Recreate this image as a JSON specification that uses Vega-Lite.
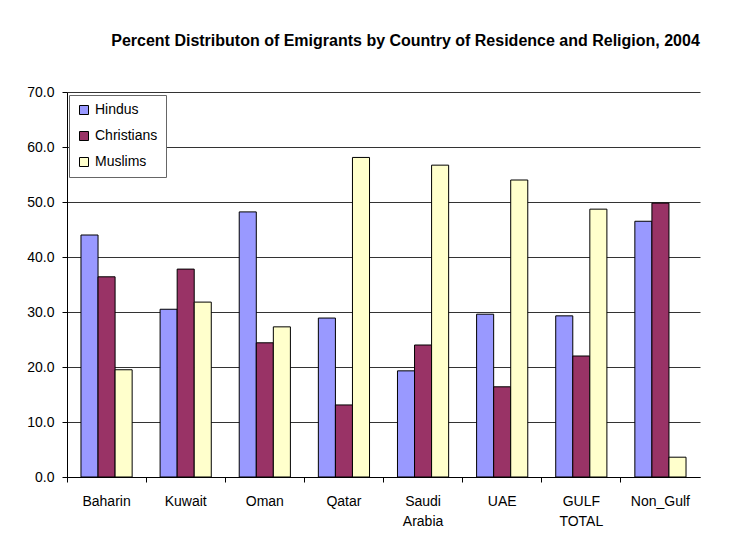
{
  "$schema": "https://vega.github.io/schema/vega-lite/v6.json",
  "width": 633,
  "height": 385,
  "autosize": "none",
  "padding": {"left": 67, "top": 92, "right": 55, "bottom": 69},
  "background": "white",
  "title": {
    "text": "Percent Distributon of Emigrants by Country of Residence and Religion, 2004",
    "fontSize": 16,
    "fontWeight": "bold",
    "font": "Liberation Sans",
    "color": "black",
    "anchor": "middle",
    "dx": 22,
    "offset": 36
  },
  "data": {
    "values": [
      {"country": "Baharin", "religion": "Hindus", "pct": 44.0},
      {"country": "Baharin", "religion": "Christians", "pct": 36.4},
      {"country": "Baharin", "religion": "Muslims", "pct": 19.5},
      {"country": "Kuwait", "religion": "Hindus", "pct": 30.5},
      {"country": "Kuwait", "religion": "Christians", "pct": 37.8},
      {"country": "Kuwait", "religion": "Muslims", "pct": 31.8},
      {"country": "Oman", "religion": "Hindus", "pct": 48.2},
      {"country": "Oman", "religion": "Christians", "pct": 24.4},
      {"country": "Oman", "religion": "Muslims", "pct": 27.3},
      {"country": "Qatar", "religion": "Hindus", "pct": 28.9},
      {"country": "Qatar", "religion": "Christians", "pct": 13.1},
      {"country": "Qatar", "religion": "Muslims", "pct": 58.1},
      {"country": "Saudi Arabia", "religion": "Hindus", "pct": 19.3},
      {"country": "Saudi Arabia", "religion": "Christians", "pct": 24.0},
      {"country": "Saudi Arabia", "religion": "Muslims", "pct": 56.7},
      {"country": "UAE", "religion": "Hindus", "pct": 29.6},
      {"country": "UAE", "religion": "Christians", "pct": 16.4},
      {"country": "UAE", "religion": "Muslims", "pct": 54.0},
      {"country": "GULF TOTAL", "religion": "Hindus", "pct": 29.3},
      {"country": "GULF TOTAL", "religion": "Christians", "pct": 22.0},
      {"country": "GULF TOTAL", "religion": "Muslims", "pct": 48.7},
      {"country": "Non_Gulf", "religion": "Hindus", "pct": 46.5},
      {"country": "Non_Gulf", "religion": "Christians", "pct": 49.8},
      {"country": "Non_Gulf", "religion": "Muslims", "pct": 3.6}
    ]
  },
  "mark": {"type": "bar", "stroke": "black", "strokeWidth": 1},
  "encoding": {
    "x": {
      "field": "country",
      "type": "nominal",
      "sort": null,
      "scale": {"paddingInner": 0, "paddingOuter": 0},
      "axis": {
        "title": null,
        "labelAngle": 0,
        "bandPosition": 0,
        "tickSize": 5,
        "tickColor": "black",
        "domainColor": "black",
        "labelColor": "black",
        "labelFontSize": 14,
        "labelPadding": 12,
        "labelLineHeight": 20,
        "labelExpr": "split(datum.value, ' ')"
      }
    },
    "xOffset": {
      "field": "religion",
      "type": "nominal",
      "scale": {"domain": ["Hindus", "Christians", "Muslims"], "paddingInner": 0, "paddingOuter": 0.82}
    },
    "y": {
      "field": "pct",
      "type": "quantitative",
      "scale": {"domain": [0, 70], "nice": false},
      "axis": {
        "title": null,
        "values": [0, 10, 20, 30, 40, 50, 60, 70],
        "format": ".1f",
        "grid": true,
        "gridColor": "#333333",
        "domainColor": "black",
        "tickColor": "black",
        "tickSize": 5,
        "labelColor": "black",
        "labelFontSize": 14,
        "labelPadding": 8
      }
    },
    "color": {
      "field": "religion",
      "type": "nominal",
      "scale": {"domain": ["Hindus", "Christians", "Muslims"], "range": ["#9999FF", "#993366", "#FFFFCC"]},
      "legend": {
        "title": null,
        "orient": "none",
        "legendX": 2,
        "legendY": 3,
        "strokeColor": "#666666",
        "fillColor": "white",
        "padding": 8,
        "symbolType": "square",
        "symbolSize": 81,
        "symbolStrokeColor": "black",
        "symbolStrokeWidth": 1,
        "labelFontSize": 14,
        "labelColor": "black",
        "labelOffset": 4,
        "rowPadding": 12
      }
    }
  },
  "config": {
    "view": {"stroke": null},
    "font": "Liberation Sans"
  }
}
